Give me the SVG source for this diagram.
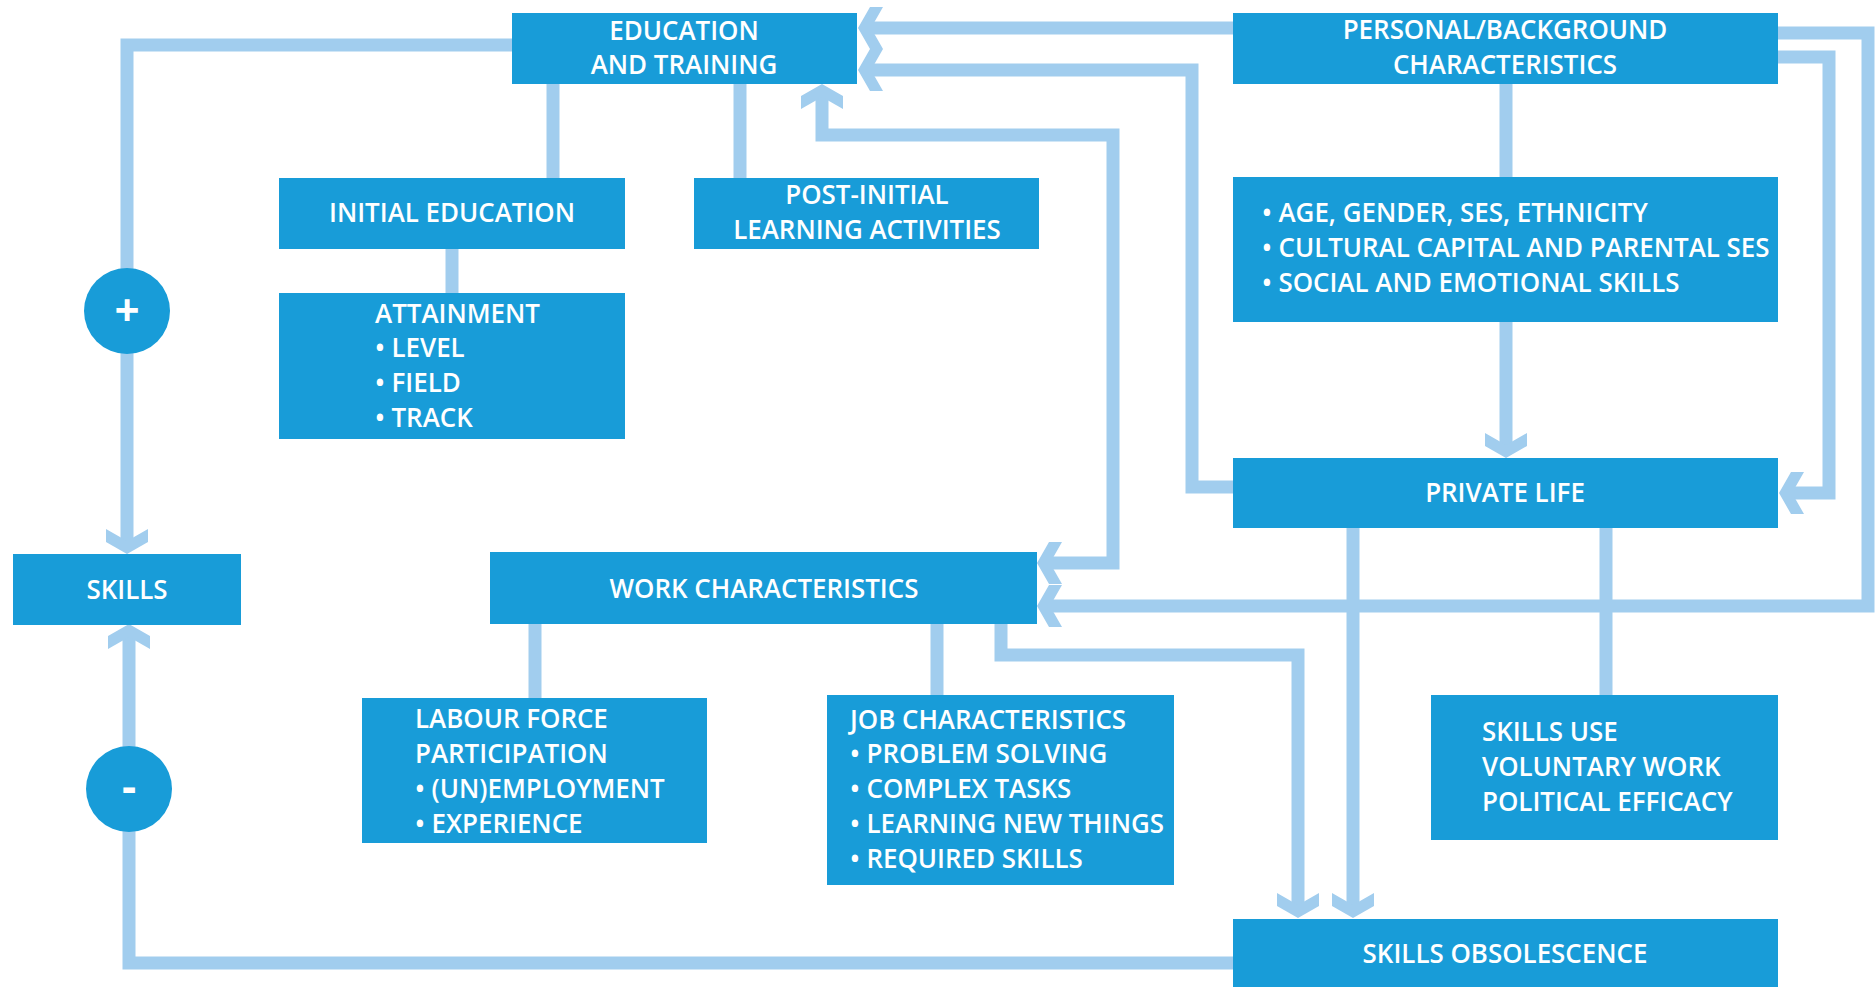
<svg xmlns="http://www.w3.org/2000/svg" width="1875" height="987" viewBox="0 0 1875 987">
  <style>
    .box { fill: #189CD8; }
    .conn { fill: none; stroke: #A1CDEE; stroke-width: 13; stroke-linejoin: miter; }
    .lbl { fill: #ffffff; font-family: "Open Sans", "Liberation Sans", sans-serif; font-weight: 600; font-size: 27px; }
    .c { text-anchor: middle; }
    .sign { fill: #ffffff; font-family: "Open Sans", "Liberation Sans", sans-serif; font-weight: 700; font-size: 44px; text-anchor: middle; }
  </style>
  <defs>
    <marker id="chev" markerUnits="userSpaceOnUse" markerWidth="60" markerHeight="60" refX="-8" refY="0" orient="auto-start-reverse" overflow="visible">
      <polygon points="0,0 -12,-21 -25,-21 -13,0 -25,21 -12,21" fill="#A1CDEE"/>
    </marker>
  </defs>
  <rect width="1875" height="987" fill="#ffffff"/>

  <!-- connectors -->
  <g id="connectors">
    <path class="conn" d="M512,45 H127 V546" marker-end="url(#chev)"/>
    <path class="conn" d="M1233,963 H129 V632" marker-end="url(#chev)"/>
    <path class="conn" d="M553,84 V178"/>
    <path class="conn" d="M740,84 V178"/>
    <path class="conn" d="M452,249 V293"/>
    <path class="conn" d="M1233,28 H866" marker-end="url(#chev)"/>
    <path class="conn" d="M1233,487 H1192 V70 H866" marker-end="url(#chev)"/>
    <path class="conn" d="M1778,33 H1868 V606 H1045" marker-end="url(#chev)"/>
    <path class="conn" d="M1778,57 H1829 V493 H1787" marker-end="url(#chev)"/>
    <path class="conn" d="M1506,84 V450" marker-end="url(#chev)"/>
    <path class="conn" d="M822,92 V135 H1113 V563 H1045" marker-start="url(#chev)" marker-end="url(#chev)"/>
    <path class="conn" d="M535,624 V698"/>
    <path class="conn" d="M937,624 V695"/>
    <path class="conn" d="M1001,624 V655 H1298 V910" marker-end="url(#chev)"/>
    <path class="conn" d="M1353,527 V910" marker-end="url(#chev)"/>
    <path class="conn" d="M1606,527 V695"/>
  </g>

  <!-- labels are set slightly condensed: matrix(0.96 0 0 1 x 0) -->
  <g id="education">
    <rect class="box" x="512" y="13" width="345" height="71"/>
    <text class="lbl c" x="0" y="40" transform="matrix(0.96 0 0 1 684 0)">EDUCATION</text>
    <text class="lbl c" x="0" y="74" transform="matrix(0.96 0 0 1 684 0)">AND TRAINING</text>
  </g>
  <g id="personal">
    <rect class="box" x="1233" y="13" width="545" height="71"/>
    <text class="lbl c" x="0" y="39" transform="matrix(0.96 0 0 1 1505 0)">PERSONAL/BACKGROUND</text>
    <text class="lbl c" x="0" y="74" transform="matrix(0.96 0 0 1 1505 0)">CHARACTERISTICS</text>
  </g>
  <g id="initial-education">
    <rect class="box" x="279" y="178" width="346" height="71"/>
    <text class="lbl c" x="0" y="222" transform="matrix(0.96 0 0 1 452 0)">INITIAL EDUCATION</text>
  </g>
  <g id="post-initial">
    <rect class="box" x="694" y="178" width="345" height="71"/>
    <text class="lbl c" x="0" y="204" transform="matrix(0.96 0 0 1 867 0)">POST-INITIAL</text>
    <text class="lbl c" x="0" y="239" transform="matrix(0.96 0 0 1 867 0)">LEARNING ACTIVITIES</text>
  </g>
  <g id="background-factors">
    <rect class="box" x="1233" y="177" width="545" height="145"/>
    <text class="lbl" x="0" y="222" transform="matrix(0.96 0 0 1 1262 0)">• AGE, GENDER, SES, ETHNICITY</text>
    <text class="lbl" x="0" y="257" transform="matrix(0.96 0 0 1 1262 0)">• CULTURAL CAPITAL AND PARENTAL SES</text>
    <text class="lbl" x="0" y="292" transform="matrix(0.96 0 0 1 1262 0)">• SOCIAL AND EMOTIONAL SKILLS</text>
  </g>
  <g id="attainment">
    <rect class="box" x="279" y="293" width="346" height="146"/>
    <text class="lbl" x="0" y="323" transform="matrix(0.96 0 0 1 375 0)">ATTAINMENT</text>
    <text class="lbl" x="0" y="357" transform="matrix(0.96 0 0 1 375 0)">• LEVEL</text>
    <text class="lbl" x="0" y="392" transform="matrix(0.96 0 0 1 375 0)">• FIELD</text>
    <text class="lbl" x="0" y="427" transform="matrix(0.96 0 0 1 375 0)">• TRACK</text>
  </g>
  <g id="private-life">
    <rect class="box" x="1233" y="458" width="545" height="70"/>
    <text class="lbl c" x="0" y="502" transform="matrix(0.96 0 0 1 1505 0)">PRIVATE LIFE</text>
  </g>
  <g id="skills">
    <rect class="box" x="13" y="554" width="228" height="71"/>
    <text class="lbl c" x="0" y="599" transform="matrix(0.96 0 0 1 127 0)">SKILLS</text>
  </g>
  <g id="work-characteristics">
    <rect class="box" x="490" y="552" width="547" height="72"/>
    <text class="lbl c" x="0" y="598" transform="matrix(0.96 0 0 1 764 0)">WORK CHARACTERISTICS</text>
  </g>
  <g id="labour-force">
    <rect class="box" x="362" y="698" width="345" height="145"/>
    <text class="lbl" x="0" y="728" transform="matrix(0.96 0 0 1 415 0)">LABOUR FORCE</text>
    <text class="lbl" x="0" y="763" transform="matrix(0.96 0 0 1 415 0)">PARTICIPATION</text>
    <text class="lbl" x="0" y="798" transform="matrix(0.96 0 0 1 415 0)">• (UN)EMPLOYMENT</text>
    <text class="lbl" x="0" y="833" transform="matrix(0.96 0 0 1 415 0)">• EXPERIENCE</text>
  </g>
  <g id="job-characteristics">
    <rect class="box" x="827" y="695" width="347" height="190"/>
    <text class="lbl" x="0" y="729" transform="matrix(0.96 0 0 1 850 0)">JOB CHARACTERISTICS</text>
    <text class="lbl" x="0" y="763" transform="matrix(0.96 0 0 1 850 0)">• PROBLEM SOLVING</text>
    <text class="lbl" x="0" y="798" transform="matrix(0.96 0 0 1 850 0)">• COMPLEX TASKS</text>
    <text class="lbl" x="0" y="833" transform="matrix(0.96 0 0 1 850 0)">• LEARNING NEW THINGS</text>
    <text class="lbl" x="0" y="868" transform="matrix(0.96 0 0 1 850 0)">• REQUIRED SKILLS</text>
  </g>
  <g id="skills-use">
    <rect class="box" x="1431" y="695" width="347" height="145"/>
    <text class="lbl" x="0" y="741" transform="matrix(0.96 0 0 1 1482 0)">SKILLS USE</text>
    <text class="lbl" x="0" y="776" transform="matrix(0.96 0 0 1 1482 0)">VOLUNTARY WORK</text>
    <text class="lbl" x="0" y="811" transform="matrix(0.96 0 0 1 1482 0)">POLITICAL EFFICACY</text>
  </g>
  <g id="skills-obsolescence">
    <rect class="box" x="1233" y="919" width="545" height="68"/>
    <text class="lbl c" x="0" y="963" transform="matrix(0.96 0 0 1 1505 0)">SKILLS OBSOLESCENCE</text>
  </g>
  <g id="plus">
    <circle class="box" cx="127" cy="311" r="43"/>
    <text class="sign" x="127" y="326">+</text>
  </g>
  <g id="minus">
    <circle class="box" cx="129" cy="789" r="43"/>
    <text class="sign" x="129" y="802">-</text>
  </g>
</svg>
